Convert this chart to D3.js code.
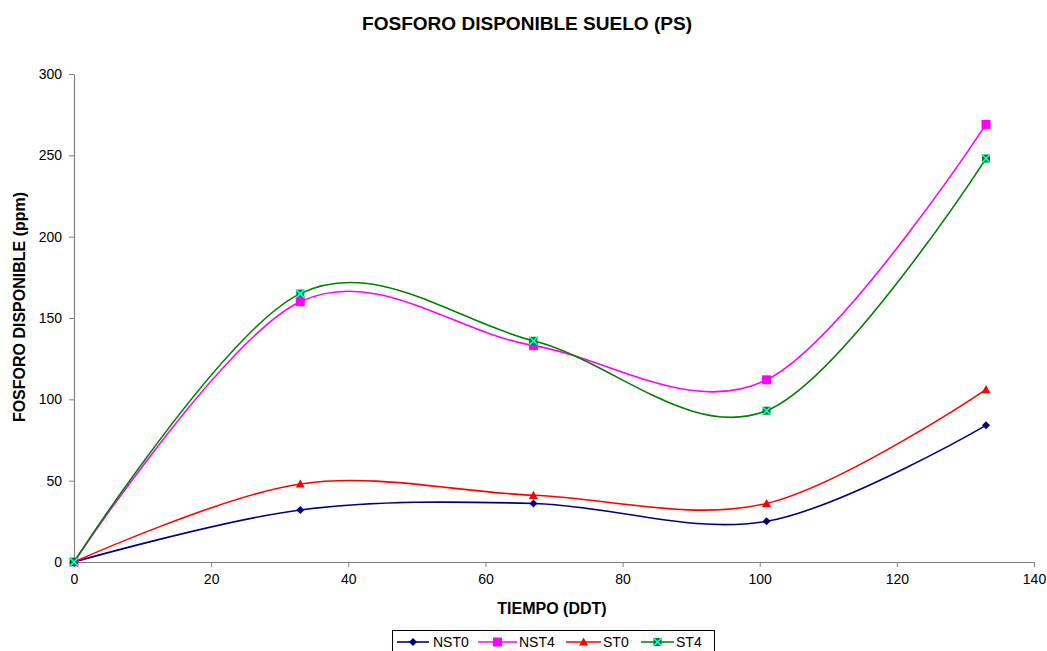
<!DOCTYPE html>
<html>
<head>
<meta charset="utf-8">
<script src="https://cdn.jsdelivr.net/npm/d3@7"></script>
<style>
  html, body { margin: 0; padding: 0; background: #fff; }
  svg { display: block; font-family: "Liberation Sans", Arial, sans-serif; }
</style>
</head>
<body>
<svg id="chart" width="1047" height="651"></svg>
<script>
// Sampling days (DDT)
const days = [0, 33, 67, 101, 133];

// Available soil phosphorus (ppm) per treatment
const nst0 = [0, 32, 36, 25, 84];
const nst4 = [0, 160, 133, 112, 269];
const st0  = [0, 48, 41, 36, 106];
const st4  = [0, 165, 136, 93, 248];

const seriesNames = ["NST0", "NST4", "ST0", "ST4"];
const seriesColors = ["#000080", "#FF00FF", "#FF0000", "#008000"];
const seriesMarkers = ["diamond", "square", "triangle", "xsquare"];

const xTicks = [0, 20, 40, 60, 80, 100, 120, 140];
const yTicks = [0, 50, 100, 150, 200, 250, 300];

const series = [nst0, nst4, st0, st4].map((vals, i) => ({
  name: seriesNames[i],
  color: seriesColors[i],
  marker: seriesMarkers[i],
  points: vals.map((v, j) => ({ x: days[j], y: v }))
}));

const svg = d3.select("#chart");
const plot = { left: 74, right: 1034, top: 74, bottom: 562 };

const x = d3.scaleLinear().domain([0, 140]).range([plot.left, plot.right]);
const y = d3.scaleLinear().domain([0, 300]).range([plot.bottom, plot.top]);

// Title
svg.append("text")
  .attr("x", 527).attr("y", 30)
  .attr("text-anchor", "middle")
  .attr("font-size", 18).attr("font-weight", "bold")
  .attr("textLength", 330).attr("lengthAdjust", "spacingAndGlyphs")
  .text("FOSFORO DISPONIBLE SUELO (PS)");

// Axes
const axisColor = "#808080";
const xAxis = svg.append("g")
  .attr("transform", `translate(0,${plot.bottom})`)
  .call(d3.axisBottom(x).tickValues(xTicks).tickSize(5).tickSizeOuter(0).tickPadding(7));
const yAxis = svg.append("g")
  .attr("transform", `translate(${plot.left},0)`)
  .call(d3.axisLeft(y).tickValues(yTicks).tickSize(5).tickSizeOuter(0).tickPadding(7));

[xAxis, yAxis].forEach(g => {
  g.select(".domain").attr("stroke", axisColor).attr("stroke-width", 1.2);
  g.selectAll(".tick line").attr("stroke", axisColor);
  g.selectAll(".tick text").attr("fill", "#000").attr("font-size", 14)
    .attr("font-family", "\"Liberation Sans\", Arial, sans-serif");
});

// Axis titles
svg.append("text")
  .attr("x", 552).attr("y", 614)
  .attr("text-anchor", "middle")
  .attr("font-size", 16).attr("font-weight", "bold")
  .text("TIEMPO (DDT)");

svg.append("text")
  .attr("transform", "translate(25,307) rotate(-90)")
  .attr("text-anchor", "middle")
  .attr("font-size", 16).attr("font-weight", "bold")
  .text("FOSFORO DISPONIBLE (ppm)");

// Smoothed lines
const line = d3.line()
  .x(d => x(d.x)).y(d => y(d.y))
  .curve(d3.curveCatmullRom.alpha(0));

const lines = svg.append("g");
series.forEach(s => {
  lines.append("path")
    .datum(s.points)
    .attr("fill", "none")
    .attr("stroke", s.color)
    .attr("stroke-width", 1.6)
    .attr("d", line);
});

// Marker drawing
function drawMarker(g, type, cx, cy, color) {
  if (type === "diamond") {
    const r = 4;
    g.append("path")
      .attr("d", `M${cx},${cy - r}L${cx + r},${cy}L${cx},${cy + r}L${cx - r},${cy}Z`)
      .attr("fill", color);
  } else if (type === "square") {
    const r = 4.5;
    g.append("rect")
      .attr("x", cx - r).attr("y", cy - r)
      .attr("width", 2 * r).attr("height", 2 * r)
      .attr("fill", color);
  } else if (type === "triangle") {
    const r = 4.5;
    g.append("path")
      .attr("d", `M${cx},${cy - r}L${cx + r},${cy + r * 0.8}L${cx - r},${cy + r * 0.8}Z`)
      .attr("fill", color);
  } else if (type === "xsquare") {
    const r = 4;
    g.append("rect")
      .attr("x", cx - r).attr("y", cy - r)
      .attr("width", 2 * r).attr("height", 2 * r)
      .attr("fill", color);
    g.append("path")
      .attr("d", `M${cx - r},${cy - r}L${cx + r},${cy + r}M${cx + r},${cy - r}L${cx - r},${cy + r}`)
      .attr("stroke", "#00FFFF").attr("stroke-width", 1.5);
  }
}

const markers = svg.append("g");
series.forEach(s => {
  s.points.forEach(p => drawMarker(markers, s.marker, x(p.x), y(p.y), s.color));
});

// Legend
const legend = svg.append("g");
legend.append("rect")
  .attr("x", 392.5).attr("y", 630.5)
  .attr("width", 322).attr("height", 30)
  .attr("fill", "#fff").attr("stroke", "#000").attr("stroke-width", 1);

const legendItems = [
  { lx1: 397, lx2: 429, tx: 433 },
  { lx1: 478, lx2: 517, tx: 519 },
  { lx1: 566, lx2: 601, tx: 603 },
  { lx1: 641, lx2: 674, tx: 676 }
];
const ly = 642;
series.forEach((s, i) => {
  const it = legendItems[i];
  legend.append("line")
    .attr("x1", it.lx1).attr("x2", it.lx2)
    .attr("y1", ly).attr("y2", ly)
    .attr("stroke", s.color).attr("stroke-width", 1.6);
  drawMarker(legend, s.marker, (it.lx1 + it.lx2) / 2, ly, s.color);
  legend.append("text")
    .attr("x", it.tx).attr("y", ly + 5)
    .attr("font-size", 14)
    .text(s.name);
});
</script>
</body>
</html>
